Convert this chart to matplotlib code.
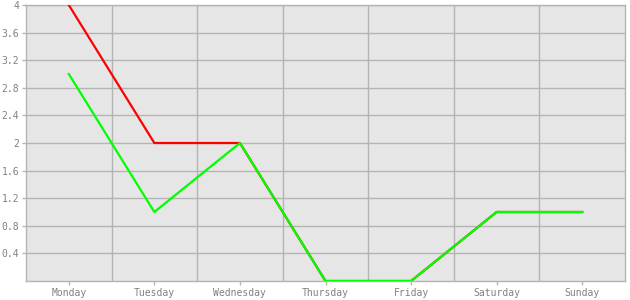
import matplotlib
matplotlib.use("Agg")
from matplotlib import pyplot as plt
import numpy as np

days = ["Monday", "Tuesday", "Wednesday", "Thursday", "Friday", "Saturday", "Sunday"]
red_vals = [4, 2, 2, 0, 0, 1, 1]
green_vals = [3, 1, 2, 0, 0, 1, 1]
yticks = [0.4, 0.8, 1.2, 1.6, 2, 2.4, 2.8, 3.2, 3.6, 4]
ytick_labels = ["0.4", "0.8", "1.2", "1.6", "2", "2.4", "2.8", "3.2", "3.6", "4"]

grid_col = "#b4b4b4"
txt_col = "#808080"

fig = plt.figure(figsize=(6.3, 3.0), dpi=100)
ax = fig.add_axes([26 / 630, 19 / 300, 599 / 630, 276 / 300])
ax.set_facecolor("#e6e6e6")

x = np.arange(len(days))
ax.plot(x, red_vals, color="#ff0000", lw=1.6, zorder=3)
ax.plot(x, green_vals, color="#00ff00", lw=1.6, zorder=4)

ax.set_xlim(-0.5, len(days) - 0.5)
ax.set_ylim(0, 4)

# grid between categories, horizontal at y ticks
for b in np.arange(0.5, len(days) - 0.5, 1):
    ax.axvline(b, color=grid_col, lw=1, zorder=1)
for yv in yticks:
    ax.axhline(yv, color=grid_col, lw=1, zorder=1)

ax.set_xticks(x)
ax.set_xticklabels(days)
ax.set_yticks(yticks)
ax.set_yticklabels(ytick_labels)

for sp in ax.spines.values():
    sp.set_color(grid_col)
    sp.set_linewidth(1)

ax.tick_params(axis="both", colors=grid_col, labelcolor=txt_col, length=3, width=1,
               labelsize=7, pad=2)
for lab in ax.get_xticklabels() + ax.get_yticklabels():
    lab.set_family("DejaVu Sans Mono")

fig.savefig("out.png", dpi=100)
